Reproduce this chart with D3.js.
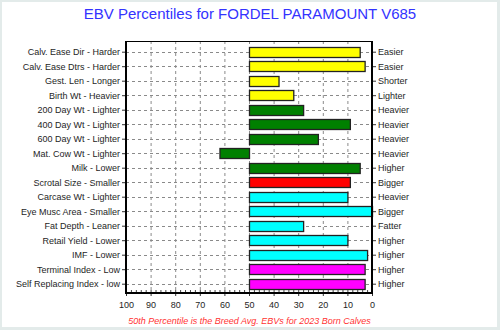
<!DOCTYPE html>
<html><head><meta charset="utf-8">
<script src="https://cdn.jsdelivr.net/npm/d3@7"></script>
<style>
html,body{margin:0;padding:0;background:#fff;}
svg{display:block;font-family:"Liberation Sans",Arial,sans-serif;}
</style></head>
<body><svg id="c" width="500" height="330"></svg>
<script>
const title = "EBV Percentiles for FORDEL PARAMOUNT V685";
const footnote = "50th Percentile is the Breed Avg. EBVs for 2023 Born Calves";
const lowLabels = ["Calv. Ease Dir - Harder","Calv. Ease Dtrs - Harder","Gest. Len - Longer","Birth Wt - Heavier","200 Day Wt - Lighter","400 Day Wt - Lighter","600 Day Wt - Lighter","Mat. Cow Wt - Lighter","Milk - Lower","Scrotal Size - Smaller","Carcase Wt - Lighter","Eye Musc Area - Smaller","Fat Depth - Leaner","Retail Yield - Lower","IMF - Lower","Terminal Index - Low","Self Replacing Index - low"];
const highLabels = ["Easier","Easier","Shorter","Lighter","Heavier","Heavier","Heavier","Heavier","Higher","Bigger","Heavier","Bigger","Fatter","Higher","Higher","Higher","Higher"];
const percentiles = [5,3,38,32,28,9,22,62,5,9,10,0,28,10,2,3,3];
const groups = ["calving","calving","calving","calving","growth","growth","growth","growth","growth","fertility","carcase","carcase","carcase","carcase","carcase","index","index"];
const xTicks = [100,90,80,70,60,50,40,30,20,10,0];
const average = 50;

const groupColor = {calving:"#ffff00", growth:"#008000", fertility:"#ff0000", carcase:"#00ffff", index:"#ff00ff"};

const svg = d3.select("#c");
const L = 126, R = 372, T = 41, B = 293;
const idx = d3.range(lowLabels.length);
const x = d3.scaleLinear().domain([100,0]).range([L,R]);
const y = d3.scalePoint().domain(idx).range([51.7,283.7]);

// outer frame
svg.append("rect").attr("x",1).attr("y",1).attr("width",497).attr("height",327)
  .attr("fill","#fff").attr("stroke","#e3ebea").attr("stroke-width",2);
svg.append("line").attr("x1",498.5).attr("x2",498.5).attr("y1",0).attr("y2",330).attr("stroke","#e3ebea").attr("stroke-width",3);
svg.append("line").attr("x1",0).attr("x2",500).attr("y1",328.5).attr("y2",328.5).attr("stroke","#e3ebea").attr("stroke-width",3);

// title
svg.append("text").attr("x",250).attr("y",18.5).attr("text-anchor","middle")
  .attr("font-size",15).attr("fill","#3333ff").text(title);

// plot background
svg.append("rect").attr("x",L).attr("y",T).attr("width",R-L).attr("height",B-T).attr("fill","#fff");

// vertical grid
svg.append("g").selectAll("line").data(xTicks.filter(d=>d!==0&&d!==100)).join("line")
  .attr("x1",d=>x(d)+0.5).attr("x2",d=>x(d)+0.5).attr("y1",T).attr("y2",B)
  .attr("stroke","#8a8a8a").attr("stroke-dasharray","3,3");
// horizontal grid
svg.append("g").selectAll("line").data(idx).join("line")
  .attr("x1",L).attr("x2",R).attr("y1",d=>Math.round(y(d))+0.5).attr("y2",d=>Math.round(y(d))+0.5)
  .attr("stroke","#8a8a8a").attr("stroke-dasharray","3,3");

// bars
const bh = 10;
svg.append("g").selectAll("rect").data(idx).join("rect")
  .attr("x",i=>Math.min(x(average),x(percentiles[i]))+0.5)
  .attr("width",i=>Math.abs(x(percentiles[i])-x(average)))
  .attr("y",i=>Math.round(y(i)-bh/2)+0.5)
  .attr("height",bh)
  .attr("fill",i=>groupColor[groups[i]])
  .attr("stroke","#222").attr("stroke-width",1.3);

// minor ticks on bottom (inside)
svg.append("g").selectAll("line").data(d3.range(2,100,2)).join("line")
  .attr("x1",d=>x(d)+0.5).attr("x2",d=>x(d)+0.5).attr("y1",B-3).attr("y2",B)
  .attr("stroke","#444");

// axes
const txtCol = "#1e1e1e";
const leftAxis = svg.append("g").attr("transform",`translate(${L},0)`)
  .call(d3.axisLeft(y).tickSize(4).tickPadding(2).tickFormat(i=>lowLabels[i]));
const rightAxis = svg.append("g").attr("transform",`translate(${R},0)`)
  .call(d3.axisRight(y).tickSize(4).tickPadding(2).tickFormat(i=>highLabels[i]));
const bottomAxis = svg.append("g").attr("transform",`translate(0,${B})`)
  .call(d3.axisBottom(x).tickValues(xTicks).tickSize(3).tickPadding(6).tickFormat(d3.format("d")));
[leftAxis,rightAxis,bottomAxis].forEach(g=>{
  g.select(".domain").remove();
  g.selectAll("text").attr("font-size",9).attr("fill",txtCol).attr("font-family","Liberation Sans, Arial, sans-serif");
  g.selectAll(".tick line").attr("stroke","#333");
});

// frame
svg.append("line").attr("x1",L).attr("x2",R).attr("y1",T+0.5).attr("y2",T+0.5).attr("stroke","#000").attr("stroke-width",1);
svg.append("line").attr("x1",L).attr("x2",L).attr("y1",T).attr("y2",B+1).attr("stroke","#000").attr("stroke-width",2);
svg.append("line").attr("x1",R).attr("x2",R).attr("y1",T).attr("y2",B+1).attr("stroke","#000").attr("stroke-width",2);
svg.append("line").attr("x1",L-1).attr("x2",R+1).attr("y1",B).attr("y2",B).attr("stroke","#000").attr("stroke-width",2);

// footnote
svg.append("text").attr("x",249.5).attr("y",324).attr("text-anchor","middle")
  .attr("font-size",9).attr("font-style","italic").attr("fill","#ff3333").text(footnote);
</script></body></html>
